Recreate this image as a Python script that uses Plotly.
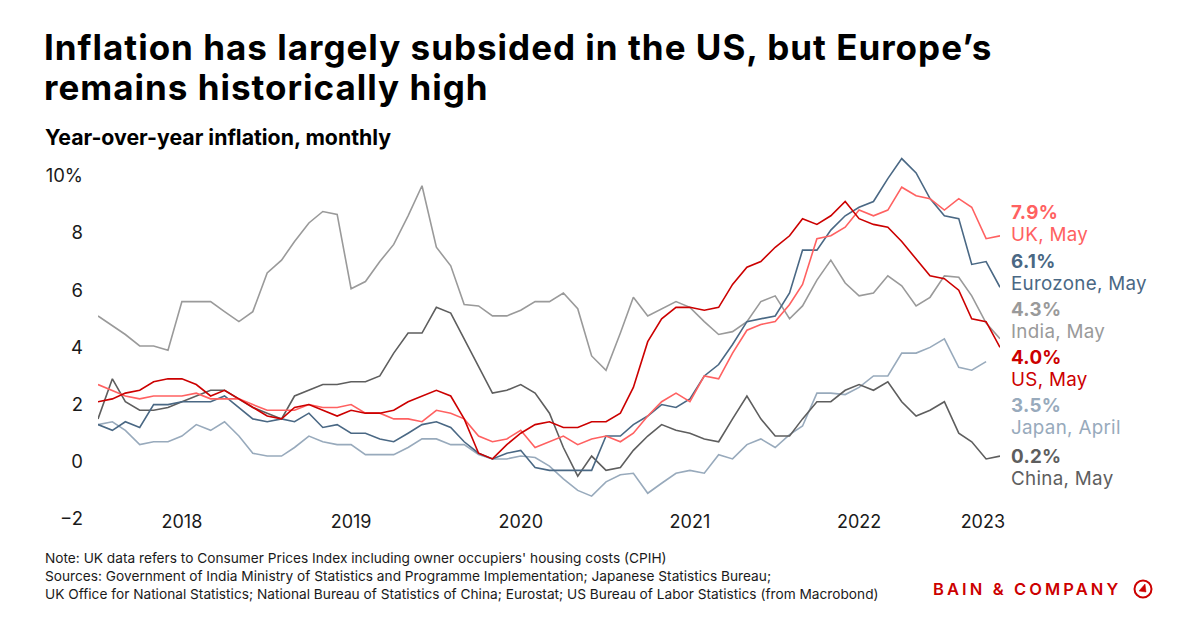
import plotly.graph_objects as go
import pandas as pd

# ---------------- data (monthly YoY inflation, %) ----------------
months = pd.date_range("2018-01-01", "2023-05-01", freq="MS")

uk = [2.7, 2.5, 2.3, 2.2, 2.3, 2.3, 2.3, 2.4, 2.2, 2.2, 2.2, 2.0,
      1.8, 1.8, 1.8, 2.0, 1.9, 1.9, 2.0, 1.7, 1.7, 1.5, 1.5, 1.4,
      1.8, 1.7, 1.5, 0.9, 0.7, 0.8, 1.1, 0.5, 0.7, 0.9, 0.6, 0.8,
      0.9, 0.7, 1.0, 1.6, 2.1, 2.4, 2.1, 3.0, 2.9, 3.8, 4.6, 4.8,
      4.9, 5.5, 6.2, 7.8, 7.9, 8.2, 8.8, 8.6, 8.8, 9.6, 9.3, 9.2,
      8.8, 9.2, 8.9, 7.8, 7.9]

eurozone = [1.3, 1.1, 1.4, 1.2, 2.0, 2.0, 2.1, 2.1, 2.1, 2.3, 1.9, 1.5,
            1.4, 1.5, 1.4, 1.7, 1.2, 1.3, 1.0, 1.0, 0.8, 0.7, 1.0, 1.3,
            1.4, 1.2, 0.7, 0.3, 0.1, 0.3, 0.4, -0.2, -0.3, -0.3, -0.3, -0.3,
            0.9, 0.9, 1.3, 1.6, 2.0, 1.9, 2.2, 3.0, 3.4, 4.1, 4.9, 5.0,
            5.1, 5.9, 7.4, 7.4, 8.1, 8.6, 8.9, 9.1, 9.9, 10.6, 10.1, 9.2,
            8.6, 8.5, 6.9, 7.0, 6.1]

india = [5.1, 4.75, 4.45, 4.05, 4.05, 3.9, 5.6, 5.6, 5.6, 5.25, 4.9, 5.25,
         6.6, 7.05, 7.7, 8.35, 8.75, 8.65, 6.05, 6.3, 7.0, 7.6, 8.6, 9.65,
         7.5, 6.85, 5.5, 5.45, 5.1, 5.1, 5.3, 5.6, 5.6, 5.9, 5.35, 3.7,
         3.2, 4.5, 5.75, 5.1, 5.35, 5.6, 5.4, 4.9, 4.45, 4.55, 4.9, 5.6,
         5.8, 5.0, 5.45, 6.35, 7.05, 6.25, 5.8, 5.9, 6.5, 6.15, 5.45, 5.75,
         6.5, 6.45, 5.8, 4.85, 4.3]

us = [2.1, 2.2, 2.4, 2.5, 2.8, 2.9, 2.9, 2.7, 2.3, 2.5, 2.2, 1.9,
      1.6, 1.5, 1.9, 2.0, 1.8, 1.6, 1.8, 1.7, 1.7, 1.8, 2.1, 2.3,
      2.5, 2.3, 1.5, 0.3, 0.1, 0.6, 1.0, 1.3, 1.4, 1.2, 1.2, 1.4,
      1.4, 1.7, 2.6, 4.2, 5.0, 5.4, 5.4, 5.3, 5.4, 6.2, 6.8, 7.0,
      7.5, 7.9, 8.5, 8.3, 8.6, 9.1, 8.5, 8.3, 8.2, 7.7, 7.1, 6.5,
      6.4, 6.0, 5.0, 4.9, 4.0]

japan = [1.3, 1.4, 1.1, 0.6, 0.7, 0.7, 0.9, 1.3, 1.1, 1.4, 0.9, 0.3,
         0.2, 0.2, 0.5, 0.9, 0.7, 0.6, 0.6, 0.25, 0.25, 0.25, 0.5, 0.8,
         0.8, 0.6, 0.6, 0.25, 0.1, 0.1, 0.2, 0.15, -0.15, -0.6, -1.0, -1.2,
         -0.7, -0.45, -0.4, -1.1, -0.75, -0.4, -0.3, -0.4, 0.25, 0.1, 0.6, 0.8,
         0.5, 0.95, 1.25, 2.4, 2.4, 2.35, 2.6, 3.0, 3.0, 3.8, 3.8, 4.0,
         4.3, 3.3, 3.2, 3.5]

china = [1.5, 2.9, 2.1, 1.8, 1.8, 1.9, 2.1, 2.3, 2.5, 2.5, 2.2, 1.9,
         1.7, 1.5, 2.3, 2.5, 2.7, 2.7, 2.8, 2.8, 3.0, 3.8, 4.5, 4.5,
         5.4, 5.2, 4.3, 3.3, 2.4, 2.5, 2.7, 2.4, 1.7, 0.5, -0.5, 0.2,
         -0.3, -0.2, 0.4, 0.9, 1.3, 1.1, 1.0, 0.8, 0.7, 1.5, 2.3, 1.5,
         0.9, 0.9, 1.5, 2.1, 2.1, 2.5, 2.7, 2.5, 2.8, 2.1, 1.6, 1.8,
         2.1, 1.0, 0.7, 0.1, 0.2]

series_names = ["UK", "Eurozone", "India", "US", "Japan", "China"]
series_values = [uk, eurozone, india, us, japan, china]
series_last_label = ["7.9%", "6.1%", "4.3%", "4.0%", "3.5%", "0.2%"]
series_last_period = ["UK, May", "Eurozone, May", "India, May", "US, May", "Japan, April", "China, May"]

year_tick_dates = ["2018-07-01", "2019-07-01", "2020-07-01", "2021-07-01", "2022-07-01", "2023-03-25"]
year_tick_labels = ["2018", "2019", "2020", "2021", "2022", "2023"]
y_tick_vals = [-2, 0, 2, 4, 6, 8, 10]
y_tick_labels = ["\u22122", "0", "2", "4", "6", "8", "10%"]

title_lines = ["Inflation has largely subsided in the US, but Europe\u2019s", "remains historically high"]
subtitle = "Year-over-year inflation, monthly"
footnote_lines = [
    "Note: UK data refers to Consumer Prices Index including owner occupiers' housing costs (CPIH)",
    "Sources: Government of India Ministry of Statistics and Programme Implementation; Japanese Statistics Bureau;",
    "UK Office for National Statistics; National Bureau of Statistics of China; Eurostat; US Bureau of Labor Statistics (from Macrobond)",
]

# ---------------- style ----------------
colors = ["#FF6161", "#4A6884", "#9A9A9A", "#CC0000", "#98AABC", "#5E5E5E"]
draw_order = [2, 4, 5, 1, 0, 3]  # india, japan, china, eurozone, uk, us
FONT = "Inter"
W, H = 1200, 627
OFF = 8  # page offset of the figure (body margin)
# plot area in page pixels
PL, PR, PT, PB = 98, 1000, 150, 519
ML, MR, MT, MB = PL - OFF, W - (PR - OFF), PT - OFF, H - (PB - OFF)


def xp(px):
    return (px - OFF - ML) / (W - ML - MR)


def yp(py):
    return ((H - MB) - (py - OFF)) / (H - MT - MB)


fig = go.Figure()
for i in draw_order:
    fig.add_trace(go.Scatter(
        x=months[:len(series_values[i])], y=series_values[i], mode="lines",
        name=series_names[i], line=dict(color=colors[i], width=1.6),
        hoverinfo="skip", showlegend=False))

annotations = []
# title: outer font size sets the line pitch (1.3 x size), inner span sets glyph size
title_txt = "<br>".join(
    f'<span style="font-size:35px;letter-spacing:1px"><b>{t}</b></span>' for t in title_lines)
annotations.append(dict(text=title_txt, x=xp(42), y=yp(66.5), xref="paper", yref="paper",
                        xanchor="left", yanchor="middle", align="left", showarrow=False,
                        font=dict(family=FONT, size=30.8, color="#000000")))
annotations.append(dict(text=f"<b>{subtitle}</b>",
                        x=xp(43), y=yp(137), xref="paper", yref="paper",
                        xanchor="left", yanchor="middle", showarrow=False,
                        font=dict(family=FONT, size=21.3, color="#000000")))

# end labels (value bold + period), line pitch ~22px
label_y = [223, 272.5, 320, 368, 416, 467]
for i, yc in enumerate(label_y):
    txt = (f'<span style="font-size:18.8px;letter-spacing:0.3px"><b>{series_last_label[i]}</b></span><br>'
           f'<span style="font-size:18.8px;letter-spacing:0.3px">{series_last_period[i]}</span>')
    annotations.append(dict(text=txt, x=xp(1009), y=yp(yc),
                            xref="paper", yref="paper", xanchor="left", yanchor="middle",
                            align="left", showarrow=False,
                            font=dict(family=FONT, size=17, color=colors[i])))

# footnotes
annotations.append(dict(
    text="<br>".join(footnote_lines),
    x=xp(43), y=yp(576), xref="paper", yref="paper", xanchor="left", yanchor="middle",
    align="left", showarrow=False, font=dict(family=FONT, size=13.7, color="#1a1a1a")))

# logo text
annotations.append(dict(text='<span style="letter-spacing:3.1px">BAIN &amp; COMPANY</span>',
                        x=xp(1123), y=yp(589), xref="paper", yref="paper",
                        xanchor="right", yanchor="middle", showarrow=False,
                        font=dict(family=FONT, size=16.5, color="#CC0000", weight=600)))

cx, cy, r = 1143, 589, 8.5
shapes = [
    dict(type="circle", xref="paper", yref="paper",
         x0=xp(cx - r), x1=xp(cx + r), y0=yp(cy + r), y1=yp(cy - r),
         line=dict(color="#CC0000", width=2)),
    dict(type="path", xref="paper", yref="paper",
         path=f"M {xp(cx - 4)} {yp(cy + 2)} L {xp(cx + 2)} {yp(cy - 5)} L {xp(cx + 3)} {yp(cy + 3)} Z",
         fillcolor="#CC0000", line=dict(color="#CC0000", width=0.5)),
]

fig.update_layout(
    width=W, height=H,
    margin=dict(l=ML, r=MR, t=MT, b=MB),
    paper_bgcolor="white", plot_bgcolor="white",
    font=dict(family=FONT, color="#1a1a1a"),
    annotations=annotations, shapes=shapes,
    xaxis=dict(range=["2018-01-01", "2023-05-01"], showgrid=False, zeroline=False,
               showline=False, ticks="", tickvals=year_tick_dates, ticktext=year_tick_labels,
               tickfont=dict(family=FONT, size=18, color="#1a1a1a"), ticklabelstandoff=-10),
    yaxis=dict(range=[-2.0, 10.9], showgrid=False, zeroline=False, showline=False,
               ticks="", tickvals=y_tick_vals, ticktext=y_tick_labels,
               tickfont=dict(family=FONT, size=18.5, color="#1a1a1a"), ticklabelstandoff=14),
)

fig.write_html("out.html")
